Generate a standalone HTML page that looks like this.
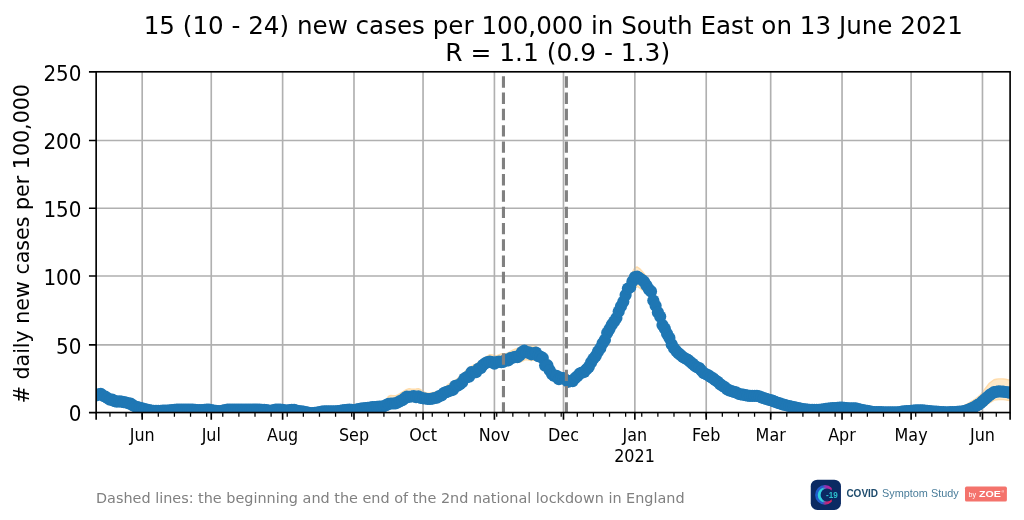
<!DOCTYPE html>
<html lang="en"><head><meta charset="utf-8"><title>COVID Symptom Study - South East</title>
<style>html,body{margin:0;padding:0;background:#fff}body{width:1024px;height:520px;overflow:hidden}</style></head>
<body>
<svg width="1024" height="520" viewBox="0 0 1024 520" style="display:block">
<defs><clipPath id="ax"><rect x="96.15" y="71.80" width="913.95" height="340.75"/></clipPath></defs>
<rect width="1024" height="520" fill="#ffffff"/>
<polygon clip-path="url(#ax)" points="96.2,391.2 98.5,390.4 100.8,389.8 103.1,391.4 105.4,392.9 107.7,394.2 110.0,395.5 112.3,396.3 114.6,396.7 116.9,397.1 119.2,397.3 121.5,397.5 123.8,397.7 126.1,398.4 128.4,399.2 130.7,400.0 133.0,401.1 135.3,402.2 137.6,403.0 139.9,403.6 142.2,404.2 144.5,404.8 146.8,405.5 149.1,406.0 151.4,406.3 153.7,406.6 156.0,406.7 158.3,406.7 160.6,406.6 162.9,406.5 165.2,406.5 167.5,406.4 169.8,406.1 172.1,405.8 174.4,405.6 176.7,405.5 179.0,405.5 181.3,405.5 183.6,405.5 185.9,405.5 188.2,405.5 190.5,405.5 192.8,405.5 195.1,405.7 197.4,405.8 199.7,406.0 202.0,405.8 204.4,405.6 206.7,405.4 209.0,405.5 211.3,405.9 213.6,406.3 215.9,406.6 218.2,406.8 220.5,407.0 222.8,406.5 225.1,405.9 227.4,405.5 229.7,405.5 232.0,405.5 234.3,405.4 236.6,405.4 238.9,405.4 241.2,405.4 243.5,405.4 245.8,405.4 248.1,405.4 250.4,405.4 252.7,405.4 255.0,405.4 257.3,405.4 259.6,405.5 261.9,405.6 264.2,405.7 266.5,406.0 268.8,406.4 271.1,406.6 273.4,406.0 275.7,405.5 278.0,405.5 280.3,405.5 282.6,405.7 284.9,406.1 287.2,406.3 289.5,406.0 291.8,405.6 294.1,405.7 296.4,406.3 298.7,406.9 301.0,407.2 303.3,407.5 305.6,407.9 307.9,408.3 310.2,408.8 312.6,409.0 314.9,408.6 317.2,408.3 319.5,407.9 321.8,407.5 324.1,407.2 326.4,407.2 328.7,407.2 331.0,407.2 333.3,407.2 335.6,407.2 337.9,406.9 340.2,406.6 342.5,406.2 344.8,405.9 347.1,405.6 349.4,405.5 351.7,405.7 354.0,405.9 356.3,405.4 358.6,404.9 360.9,404.4 363.2,404.1 365.5,403.9 367.8,403.6 370.1,403.3 372.4,403.0 374.7,402.8 377.0,402.6 379.3,402.5 381.6,402.3 383.9,401.9 386.2,399.7 388.5,396.5 390.8,395.5 393.1,395.6 395.4,395.8 397.7,394.9 400.0,393.6 402.3,392.0 404.6,390.6 406.9,389.4 409.2,388.7 411.5,389.1 413.8,389.3 416.1,389.0 418.4,388.6 420.8,389.7 423.1,391.3 425.4,392.6 427.7,393.3 430.0,393.0 432.3,392.6 434.6,392.1 436.9,391.6 439.2,390.8 441.5,389.4 443.8,387.9 446.1,386.2 448.4,384.4 450.7,382.9 453.0,381.5 455.3,380.1 457.6,378.5 459.9,376.2 462.2,374.1 464.5,372.2 466.8,369.8 469.1,367.5 471.4,366.4 473.7,365.2 476.0,363.9 478.3,362.2 480.6,360.6 482.9,359.1 485.2,357.5 487.5,356.1 489.8,354.7 492.1,355.0 494.4,355.4 496.7,355.7 499.0,354.8 501.3,353.9 503.6,353.8 505.9,353.7 508.2,352.9 510.5,351.4 512.8,350.2 515.1,349.2 517.4,348.4 519.7,347.7 522.0,346.7 524.3,345.6 526.7,344.9 529.0,345.4 531.3,345.8 533.6,345.4 535.9,346.2 538.2,349.0 540.5,352.1 542.8,356.1 545.1,359.4 547.4,362.4 549.7,365.4 552.0,368.4 554.3,370.9 556.6,373.1 558.9,374.1 561.2,374.8 563.5,375.4 565.8,376.1 568.1,376.7 570.4,376.2 572.7,375.7 575.0,373.9 577.3,372.1 579.6,370.5 581.9,368.8 584.2,366.9 586.5,365.0 588.8,361.9 591.1,358.4 593.4,355.1 595.7,351.7 598.0,347.4 600.3,343.1 602.6,338.4 604.9,333.3 607.2,328.2 609.5,324.8 611.8,321.5 614.1,317.3 616.4,312.8 618.7,307.7 621.0,302.1 623.3,295.6 625.6,288.5 627.9,281.3 630.2,277.3 632.5,272.1 634.9,267.7 637.2,267.0 639.5,268.6 641.8,270.9 644.1,273.6 646.4,276.7 648.7,281.9 651.0,287.4 653.3,294.3 655.6,300.9 657.9,307.0 660.2,313.2 662.5,319.4 664.8,324.5 667.1,329.6 669.4,335.0 671.7,340.5 674.0,344.0 676.3,346.7 678.6,348.8 680.9,350.6 683.2,352.3 685.5,354.1 687.8,355.7 690.1,357.3 692.4,358.9 694.7,360.6 697.0,362.4 699.3,364.2 701.6,366.2 703.9,368.1 706.2,369.6 708.5,371.0 710.8,372.4 713.1,374.0 715.4,375.6 717.7,377.3 720.0,379.1 722.3,380.9 724.6,382.7 726.9,384.5 729.2,385.6 731.5,386.6 733.8,387.6 736.1,388.6 738.4,389.3 740.7,390.0 743.1,390.7 745.4,391.3 747.7,391.3 750.0,391.3 752.3,391.3 754.6,391.3 756.9,391.5 759.2,392.2 761.5,392.8 763.8,393.5 766.1,394.2 768.4,395.0 770.7,395.7 773.0,396.5 775.3,397.3 777.6,398.0 779.9,398.8 782.2,399.6 784.5,400.3 786.8,400.9 789.1,401.5 791.4,402.0 793.7,402.6 796.0,403.1 798.3,403.6 800.6,404.0 802.9,404.5 805.2,404.8 807.5,405.1 809.8,405.4 812.1,405.4 814.4,405.4 816.7,405.4 819.0,405.4 821.3,405.2 823.6,404.8 825.9,404.4 828.2,404.2 830.5,403.9 832.8,403.7 835.1,403.5 837.4,403.4 839.7,403.2 842.0,403.1 844.3,403.4 846.6,403.7 849.0,403.9 851.3,403.9 853.6,403.9 855.9,403.9 858.2,404.5 860.5,405.0 862.8,405.5 865.1,406.0 867.4,406.4 869.7,406.9 872.0,407.3 874.3,407.5 876.6,407.6 878.9,407.7 881.2,407.7 883.5,407.8 885.8,407.9 888.1,407.9 890.4,407.9 892.7,407.9 895.0,407.9 897.3,407.9 899.6,407.6 901.9,407.2 904.2,406.9 906.5,406.7 908.8,406.5 911.1,406.3 913.4,406.1 915.7,405.8 918.0,405.8 920.3,405.8 922.6,405.9 924.9,406.1 927.2,406.4 929.5,406.7 931.8,406.9 934.1,407.0 936.4,407.1 938.7,407.3 941.0,407.5 943.3,407.7 945.6,407.8 947.9,407.8 950.2,407.7 952.5,407.7 954.8,407.6 957.2,407.4 959.5,407.2 961.8,406.5 964.1,405.6 966.4,404.4 968.7,403.1 971.0,401.7 973.3,400.3 975.6,398.8 977.9,397.0 980.2,395.1 982.5,392.3 984.8,389.2 987.1,386.2 989.4,383.2 991.7,381.5 994.0,379.8 996.3,379.3 998.6,378.9 1000.9,378.9 1003.2,379.0 1005.5,379.3 1007.8,379.7 1010.1,380.0 1010.1,400.5 1007.8,400.2 1005.5,399.9 1003.2,399.6 1000.9,399.6 998.6,399.5 996.3,399.8 994.0,400.1 991.7,401.6 989.4,402.9 987.1,404.6 984.8,406.3 982.5,407.7 980.2,409.1 977.9,409.8 975.6,410.5 973.3,411.5 971.0,412.6 968.7,413.7 966.4,414.4 964.1,415.1 961.8,415.5 959.5,415.7 957.2,415.9 954.8,416.1 952.5,416.2 950.2,416.2 947.9,416.3 945.6,416.3 943.3,416.2 941.0,416.0 938.7,415.8 936.4,415.6 934.1,415.5 931.8,415.4 929.5,415.2 927.2,414.9 924.9,414.6 922.6,414.4 920.3,414.3 918.0,414.3 915.7,414.3 913.4,414.6 911.1,414.8 908.8,415.0 906.5,415.2 904.2,415.4 901.9,415.7 899.6,416.1 897.3,416.4 895.0,416.4 892.7,416.4 890.4,416.4 888.1,416.4 885.8,416.4 883.5,416.3 881.2,416.2 878.9,416.2 876.6,416.1 874.3,416.0 872.0,415.8 869.7,415.4 867.4,414.9 865.1,414.5 862.8,414.0 860.5,413.5 858.2,413.0 855.9,412.4 853.6,412.4 851.3,412.4 849.0,412.4 846.6,412.2 844.3,411.9 842.0,411.6 839.7,411.7 837.4,411.9 835.1,412.0 832.8,412.2 830.5,412.4 828.2,412.7 825.9,412.9 823.6,413.3 821.3,413.7 819.0,413.9 816.7,413.9 814.4,413.9 812.1,413.9 809.8,413.9 807.5,413.6 805.2,413.3 802.9,413.0 800.6,412.5 798.3,412.1 796.0,411.6 793.7,411.1 791.4,410.5 789.1,410.0 786.8,409.4 784.5,408.8 782.2,408.1 779.9,407.3 777.6,406.5 775.3,405.8 773.0,405.0 770.7,404.2 768.4,403.5 766.1,402.7 763.8,402.0 761.5,401.3 759.2,400.7 756.9,400.0 754.6,399.8 752.3,399.8 750.0,399.8 747.7,399.8 745.4,399.8 743.1,399.2 740.7,398.5 738.4,397.8 736.1,397.1 733.8,396.1 731.5,395.1 729.2,394.1 726.9,393.0 724.6,391.2 722.3,389.4 720.0,387.6 717.7,385.8 715.4,384.1 713.1,382.5 710.8,380.9 708.5,379.5 706.2,378.1 703.9,376.6 701.6,374.7 699.3,372.7 697.0,370.9 694.7,369.1 692.4,367.4 690.1,365.8 687.8,364.2 685.5,362.6 683.2,360.8 680.9,359.1 678.6,357.3 676.3,355.2 674.0,352.5 671.7,349.0 669.4,343.5 667.1,338.1 664.8,333.0 662.5,327.9 660.2,321.7 657.9,315.5 655.6,309.4 653.3,303.5 651.0,297.7 648.7,294.2 646.4,291.8 644.1,290.7 641.8,289.8 639.5,287.8 637.2,286.3 634.9,286.9 632.5,289.8 630.2,292.5 627.9,293.1 625.6,299.0 623.3,304.9 621.0,310.6 618.7,316.2 616.4,321.3 614.1,325.8 611.8,330.0 609.5,333.3 607.2,336.7 604.9,341.8 602.6,346.9 600.3,351.6 598.0,355.9 595.7,360.2 593.4,363.6 591.1,366.9 588.8,370.4 586.5,373.5 584.2,375.4 581.9,377.3 579.6,379.0 577.3,380.6 575.0,382.4 572.7,384.2 570.4,384.7 568.1,385.2 565.8,384.6 563.5,383.9 561.2,383.3 558.9,382.6 556.6,381.6 554.3,379.4 552.0,376.9 549.7,373.9 547.4,370.9 545.1,367.9 542.8,364.6 540.5,361.9 538.2,360.9 535.9,360.2 533.6,360.1 531.3,360.5 529.0,360.0 526.7,359.5 524.3,360.2 522.0,361.4 519.7,362.2 517.4,361.9 515.1,361.8 512.8,361.7 510.5,362.6 508.2,364.0 505.9,364.8 503.6,364.9 501.3,365.1 499.0,365.9 496.7,366.8 494.4,366.5 492.1,366.1 489.8,365.8 487.5,367.2 485.2,368.6 482.9,370.1 480.6,371.7 478.3,373.3 476.0,374.9 473.7,376.2 471.4,377.4 469.1,378.6 466.8,380.8 464.5,383.1 462.2,385.0 459.9,387.0 457.6,389.3 455.3,390.7 453.0,392.1 450.7,393.5 448.4,394.9 446.1,396.6 443.8,398.3 441.5,399.8 439.2,401.1 436.9,401.9 434.6,402.5 432.3,403.0 430.0,403.5 427.7,403.8 425.4,403.2 423.1,402.6 420.8,401.7 418.4,400.9 416.1,401.3 413.8,401.6 411.5,401.4 409.2,401.1 406.9,401.8 404.6,403.0 402.3,404.2 400.0,405.4 397.7,406.7 395.4,407.5 393.1,407.3 390.8,407.1 388.5,407.7 386.2,408.9 383.9,410.1 381.6,410.5 379.3,410.7 377.0,410.8 374.7,411.0 372.4,411.2 370.1,411.5 367.8,411.8 365.5,412.1 363.2,412.3 360.9,412.6 358.6,413.1 356.3,413.6 354.0,414.1 351.7,413.9 349.4,413.7 347.1,413.8 344.8,414.1 342.5,414.4 340.2,414.8 337.9,415.1 335.6,415.4 333.3,415.4 331.0,415.4 328.7,415.4 326.4,415.4 324.1,415.4 321.8,415.7 319.5,416.1 317.2,416.5 314.9,416.8 312.6,417.2 310.2,417.0 307.9,416.5 305.6,416.1 303.3,415.7 301.0,415.4 298.7,415.1 296.4,414.5 294.1,413.9 291.8,413.8 289.5,414.2 287.2,414.5 284.9,414.3 282.6,413.9 280.3,413.7 278.0,413.7 275.7,413.7 273.4,414.2 271.1,414.8 268.8,414.6 266.5,414.2 264.2,413.9 261.9,413.8 259.6,413.7 257.3,413.6 255.0,413.6 252.7,413.6 250.4,413.6 248.1,413.6 245.8,413.6 243.5,413.6 241.2,413.6 238.9,413.6 236.6,413.6 234.3,413.6 232.0,413.7 229.7,413.7 227.4,413.7 225.1,414.1 222.8,414.7 220.5,415.2 218.2,415.0 215.9,414.8 213.6,414.5 211.3,414.1 209.0,413.7 206.7,413.6 204.4,413.8 202.0,414.0 199.7,414.2 197.4,414.0 195.1,413.9 192.8,413.7 190.5,413.7 188.2,413.7 185.9,413.7 183.6,413.7 181.3,413.7 179.0,413.7 176.7,413.7 174.4,413.8 172.1,414.0 169.8,414.3 167.5,414.6 165.2,414.7 162.9,414.7 160.6,414.8 158.3,414.9 156.0,414.9 153.7,414.8 151.4,414.5 149.1,414.2 146.8,413.7 144.5,413.0 142.2,412.4 139.9,411.8 137.6,411.2 135.3,410.4 133.0,409.3 130.7,408.2 128.4,407.4 126.1,406.6 123.8,405.9 121.5,405.7 119.2,405.5 116.9,405.3 114.6,404.9 112.3,404.5 110.0,403.7 107.7,402.4 105.4,401.1 103.1,399.6 100.8,398.0 98.5,398.6 96.2,399.4" fill="#ffe9c8" stroke="#ffdcaa" stroke-width="1.4" stroke-linejoin="round"/>
<path d="M142.19 71.80V412.55M211.26 71.80V412.55M282.62 71.80V412.55M353.99 71.80V412.55M423.05 71.80V412.55M494.42 71.80V412.55M563.48 71.80V412.55M634.85 71.80V412.55M706.22 71.80V412.55M770.68 71.80V412.55M842.04 71.80V412.55M911.11 71.80V412.55M982.47 71.80V412.55M96.15 344.90H1010.10M96.15 276.00H1010.10M96.15 208.20H1010.10M96.15 140.50H1010.10" stroke="#b0b0b0" stroke-width="1.65" fill="none"/>
<g clip-path="url(#ax)" fill="#1f77b4">
<polyline points="96.2,395.4 98.5,394.3 100.8,393.9 103.1,395.8 105.4,396.7 107.7,398.3 110.0,399.7 112.3,399.6 114.6,401.2 116.9,401.7 119.2,401.3 121.5,401.6 123.8,402.1 126.1,402.5 128.4,403.3 130.7,403.7 133.0,405.4 135.3,406.5 137.6,407.2 139.9,407.8 142.2,408.4 144.5,409.0 146.8,409.7 149.1,410.2 151.4,410.5 153.7,410.8 156.0,410.9 158.3,410.9 160.6,410.8 162.9,410.7 165.2,410.7 167.5,410.6 169.8,410.3 172.1,410.0 174.4,409.8 176.7,409.7 179.0,409.7 181.3,409.7 183.6,409.7 185.9,409.7 188.2,409.7 190.5,409.7 192.8,409.7 195.1,409.9 197.4,410.0 199.7,410.2 202.0,410.0 204.4,409.8 206.7,409.6 209.0,409.7 211.3,410.1 213.6,410.5 215.9,410.8 218.2,411.0 220.5,411.2 222.8,410.7 225.1,410.1 227.4,409.7 229.7,409.7 232.0,409.7 234.3,409.6 236.6,409.6 238.9,409.6 241.2,409.6 243.5,409.6 245.8,409.6 248.1,409.6 250.4,409.6 252.7,409.6 255.0,409.6 257.3,409.6 259.6,409.7 261.9,409.8 264.2,409.9 266.5,410.2 268.8,410.6 271.1,410.8 273.4,410.2 275.7,409.7 278.0,409.7 280.3,409.7 282.6,409.9 284.9,410.3 287.2,410.5 289.5,410.2 291.8,409.8 294.1,409.9 296.4,410.5 298.7,411.1 301.0,411.4 303.3,411.7 305.6,412.1 307.9,412.5 310.2,413.0 312.6,413.2 314.9,412.8 317.2,412.5 319.5,412.1 321.8,411.7 324.1,411.4 326.4,411.4 328.7,411.4 331.0,411.4 333.3,411.4 335.6,411.4 337.9,411.1 340.2,410.8 342.5,410.4 344.8,410.1 347.1,409.8 349.4,409.7 351.7,409.9 354.0,410.1 356.3,409.6 358.6,409.1 360.9,408.6 363.2,408.3 365.5,408.1 367.8,407.8 370.1,407.5 372.4,407.2 374.7,407.0 377.0,406.9 379.3,406.7 381.6,406.5 383.9,406.3 386.2,405.1 388.5,403.9 390.8,403.5 393.1,403.5 395.4,403.4 397.7,402.5 400.0,401.1 402.3,400.2 404.6,398.4 406.9,396.5 409.2,396.8 411.5,396.5 413.8,396.2 416.1,397.1 418.4,396.4 420.8,397.9 423.1,398.3 425.4,398.5 427.7,399.0 430.0,399.0 432.3,398.7 434.6,398.0 436.9,397.6 439.2,396.1 441.5,395.5 443.8,393.0 446.1,392.1 448.4,391.3 450.7,390.5 453.0,389.8 455.3,385.8 457.6,385.7 459.9,384.3 462.2,382.3 464.5,378.5 466.8,377.1 469.1,376.7 471.4,372.2 473.7,372.5 476.0,372.2 478.3,368.8 480.6,368.2 482.9,365.0 485.2,363.4 487.5,362.0 489.8,361.7 492.1,362.0 494.4,363.6 496.7,362.0 499.0,361.6 501.3,362.1 503.6,361.8 505.9,359.5 508.2,360.5 510.5,358.2 512.8,357.7 515.1,356.9 517.4,357.1 519.7,355.4 522.0,352.0 524.3,350.7 526.7,352.5 529.0,352.4 531.3,354.3 533.6,353.3 535.9,352.5 538.2,356.1 540.5,356.5 542.8,358.1 545.1,365.6 547.4,365.2 549.7,370.2 552.0,374.1 554.3,375.9 556.6,375.9 558.9,379.2 561.2,377.9 563.5,378.2 565.8,379.8 568.1,381.8 570.4,381.2 572.7,381.1 575.0,378.2 577.3,376.3 579.6,373.7 581.9,372.6 584.2,371.9 586.5,369.3 588.8,366.9 591.1,362.4 593.4,358.8 595.7,356.0 598.0,351.6 600.3,348.2 602.6,343.3 604.9,339.9 607.2,332.9 609.5,329.1 611.8,324.7 614.1,321.5 616.4,318.0 618.7,311.5 621.0,306.3 623.3,301.7 625.6,295.1 627.9,288.6 630.2,287.3 632.5,281.3 634.9,277.1 637.2,276.7 639.5,278.2 641.8,279.8 644.1,281.7 646.4,285.3 648.7,289.1 651.0,291.4 653.3,300.5 655.6,305.7 657.9,312.4 660.2,316.6 662.5,325.1 664.8,328.6 667.1,333.9 669.4,337.9 671.7,344.4 674.0,348.3 676.3,351.1 678.6,353.4 680.9,355.2 683.2,357.3 685.5,358.5 687.8,359.8 690.1,361.7 692.4,363.6 694.7,365.7 697.0,367.3 699.3,368.1 701.6,370.7 703.9,373.2 706.2,374.3 708.5,375.4 710.8,377.0 713.1,378.4 715.4,380.3 717.7,381.8 720.0,384.1 722.3,385.7 724.6,387.0 726.9,389.1 729.2,390.4 731.5,391.0 733.8,391.9 736.1,392.4 738.4,393.8 740.7,394.3 743.1,394.6 745.4,395.2 747.7,395.6 750.0,395.9 752.3,395.8 754.6,395.9 756.9,395.8 759.2,396.3 761.5,397.4 763.8,398.1 766.1,398.8 768.4,399.7 770.7,400.1 773.0,400.9 775.3,401.9 777.6,402.8 779.9,403.4 782.2,404.3 784.5,404.8 786.8,405.5 789.1,406.0 791.4,406.5 793.7,407.1 796.0,407.6 798.3,408.1 800.6,408.5 802.9,409.0 805.2,409.3 807.5,409.6 809.8,409.9 812.1,409.9 814.4,409.9 816.7,409.9 819.0,409.9 821.3,409.7 823.6,409.3 825.9,408.9 828.2,408.7 830.5,408.4 832.8,408.2 835.1,408.0 837.4,407.9 839.7,407.7 842.0,407.6 844.3,407.9 846.6,408.2 849.0,408.4 851.3,408.4 853.6,408.4 855.9,408.4 858.2,409.0 860.5,409.5 862.8,410.0 865.1,410.5 867.4,410.9 869.7,411.4 872.0,411.8 874.3,412.0 876.6,412.1 878.9,412.2 881.2,412.2 883.5,412.3 885.8,412.4 888.1,412.4 890.4,412.4 892.7,412.4 895.0,412.4 897.3,412.4 899.6,412.1 901.9,411.7 904.2,411.4 906.5,411.2 908.8,411.0 911.1,410.8 913.4,410.6 915.7,410.3 918.0,410.3 920.3,410.3 922.6,410.4 924.9,410.6 927.2,410.9 929.5,411.2 931.8,411.4 934.1,411.5 936.4,411.6 938.7,411.8 941.0,412.0 943.3,412.2 945.6,412.3 947.9,412.3 950.2,412.2 952.5,412.2 954.8,412.1 957.2,411.9 959.5,411.7 961.8,411.5 964.1,411.1 966.4,410.4 968.7,409.7 971.0,408.6 973.3,407.5 975.6,406.3 977.9,404.9 980.2,403.5 982.5,401.4 984.8,399.3 987.1,397.3 989.4,395.2 991.7,393.7 994.0,392.2 996.3,391.8 998.6,391.4 1000.9,391.5 1003.2,391.6 1005.5,392.0 1007.8,392.3 1010.1,392.7" fill="none" stroke="#1f77b4" stroke-width="4" stroke-linejoin="round"/>
<circle cx="96.2" cy="395.4" r="6.1"/>
<circle cx="98.5" cy="394.3" r="6.1"/>
<circle cx="100.8" cy="393.9" r="6.1"/>
<circle cx="103.1" cy="395.8" r="6.1"/>
<circle cx="105.4" cy="396.7" r="6.1"/>
<circle cx="107.7" cy="398.3" r="6.1"/>
<circle cx="110.0" cy="399.7" r="6.1"/>
<circle cx="112.3" cy="399.6" r="6.1"/>
<circle cx="114.6" cy="401.2" r="6.1"/>
<circle cx="116.9" cy="401.7" r="6.1"/>
<circle cx="119.2" cy="401.3" r="6.1"/>
<circle cx="121.5" cy="401.6" r="6.1"/>
<circle cx="123.8" cy="402.1" r="6.1"/>
<circle cx="126.1" cy="402.5" r="6.1"/>
<circle cx="128.4" cy="403.3" r="6.1"/>
<circle cx="130.7" cy="403.7" r="6.1"/>
<circle cx="133.0" cy="405.4" r="6.1"/>
<circle cx="135.3" cy="406.5" r="6.1"/>
<circle cx="137.6" cy="407.2" r="6.1"/>
<circle cx="139.9" cy="407.8" r="6.1"/>
<circle cx="142.2" cy="408.4" r="6.1"/>
<circle cx="144.5" cy="409.0" r="6.1"/>
<circle cx="146.8" cy="409.7" r="6.1"/>
<circle cx="149.1" cy="410.2" r="6.1"/>
<circle cx="151.4" cy="410.5" r="6.1"/>
<circle cx="153.7" cy="410.8" r="6.1"/>
<circle cx="156.0" cy="410.9" r="6.1"/>
<circle cx="158.3" cy="410.9" r="6.1"/>
<circle cx="160.6" cy="410.8" r="6.1"/>
<circle cx="162.9" cy="410.7" r="6.1"/>
<circle cx="165.2" cy="410.7" r="6.1"/>
<circle cx="167.5" cy="410.6" r="6.1"/>
<circle cx="169.8" cy="410.3" r="6.1"/>
<circle cx="172.1" cy="410.0" r="6.1"/>
<circle cx="174.4" cy="409.8" r="6.1"/>
<circle cx="176.7" cy="409.7" r="6.1"/>
<circle cx="179.0" cy="409.7" r="6.1"/>
<circle cx="181.3" cy="409.7" r="6.1"/>
<circle cx="183.6" cy="409.7" r="6.1"/>
<circle cx="185.9" cy="409.7" r="6.1"/>
<circle cx="188.2" cy="409.7" r="6.1"/>
<circle cx="190.5" cy="409.7" r="6.1"/>
<circle cx="192.8" cy="409.7" r="6.1"/>
<circle cx="195.1" cy="409.9" r="6.1"/>
<circle cx="197.4" cy="410.0" r="6.1"/>
<circle cx="199.7" cy="410.2" r="6.1"/>
<circle cx="202.0" cy="410.0" r="6.1"/>
<circle cx="204.4" cy="409.8" r="6.1"/>
<circle cx="206.7" cy="409.6" r="6.1"/>
<circle cx="209.0" cy="409.7" r="6.1"/>
<circle cx="211.3" cy="410.1" r="6.1"/>
<circle cx="213.6" cy="410.5" r="6.1"/>
<circle cx="215.9" cy="410.8" r="6.1"/>
<circle cx="218.2" cy="411.0" r="6.1"/>
<circle cx="220.5" cy="411.2" r="6.1"/>
<circle cx="222.8" cy="410.7" r="6.1"/>
<circle cx="225.1" cy="410.1" r="6.1"/>
<circle cx="227.4" cy="409.7" r="6.1"/>
<circle cx="229.7" cy="409.7" r="6.1"/>
<circle cx="232.0" cy="409.7" r="6.1"/>
<circle cx="234.3" cy="409.6" r="6.1"/>
<circle cx="236.6" cy="409.6" r="6.1"/>
<circle cx="238.9" cy="409.6" r="6.1"/>
<circle cx="241.2" cy="409.6" r="6.1"/>
<circle cx="243.5" cy="409.6" r="6.1"/>
<circle cx="245.8" cy="409.6" r="6.1"/>
<circle cx="248.1" cy="409.6" r="6.1"/>
<circle cx="250.4" cy="409.6" r="6.1"/>
<circle cx="252.7" cy="409.6" r="6.1"/>
<circle cx="255.0" cy="409.6" r="6.1"/>
<circle cx="257.3" cy="409.6" r="6.1"/>
<circle cx="259.6" cy="409.7" r="6.1"/>
<circle cx="261.9" cy="409.8" r="6.1"/>
<circle cx="264.2" cy="409.9" r="6.1"/>
<circle cx="266.5" cy="410.2" r="6.1"/>
<circle cx="268.8" cy="410.6" r="6.1"/>
<circle cx="271.1" cy="410.8" r="6.1"/>
<circle cx="273.4" cy="410.2" r="6.1"/>
<circle cx="275.7" cy="409.7" r="6.1"/>
<circle cx="278.0" cy="409.7" r="6.1"/>
<circle cx="280.3" cy="409.7" r="6.1"/>
<circle cx="282.6" cy="409.9" r="6.1"/>
<circle cx="284.9" cy="410.3" r="6.1"/>
<circle cx="287.2" cy="410.5" r="6.1"/>
<circle cx="289.5" cy="410.2" r="6.1"/>
<circle cx="291.8" cy="409.8" r="6.1"/>
<circle cx="294.1" cy="409.9" r="6.1"/>
<circle cx="296.4" cy="410.5" r="6.1"/>
<circle cx="298.7" cy="411.1" r="6.1"/>
<circle cx="301.0" cy="411.4" r="6.1"/>
<circle cx="303.3" cy="411.7" r="6.1"/>
<circle cx="305.6" cy="412.1" r="6.1"/>
<circle cx="307.9" cy="412.5" r="6.1"/>
<circle cx="310.2" cy="413.0" r="6.1"/>
<circle cx="312.6" cy="413.2" r="6.1"/>
<circle cx="314.9" cy="412.8" r="6.1"/>
<circle cx="317.2" cy="412.5" r="6.1"/>
<circle cx="319.5" cy="412.1" r="6.1"/>
<circle cx="321.8" cy="411.7" r="6.1"/>
<circle cx="324.1" cy="411.4" r="6.1"/>
<circle cx="326.4" cy="411.4" r="6.1"/>
<circle cx="328.7" cy="411.4" r="6.1"/>
<circle cx="331.0" cy="411.4" r="6.1"/>
<circle cx="333.3" cy="411.4" r="6.1"/>
<circle cx="335.6" cy="411.4" r="6.1"/>
<circle cx="337.9" cy="411.1" r="6.1"/>
<circle cx="340.2" cy="410.8" r="6.1"/>
<circle cx="342.5" cy="410.4" r="6.1"/>
<circle cx="344.8" cy="410.1" r="6.1"/>
<circle cx="347.1" cy="409.8" r="6.1"/>
<circle cx="349.4" cy="409.7" r="6.1"/>
<circle cx="351.7" cy="409.9" r="6.1"/>
<circle cx="354.0" cy="410.1" r="6.1"/>
<circle cx="356.3" cy="409.6" r="6.1"/>
<circle cx="358.6" cy="409.1" r="6.1"/>
<circle cx="360.9" cy="408.6" r="6.1"/>
<circle cx="363.2" cy="408.3" r="6.1"/>
<circle cx="365.5" cy="408.1" r="6.1"/>
<circle cx="367.8" cy="407.8" r="6.1"/>
<circle cx="370.1" cy="407.5" r="6.1"/>
<circle cx="372.4" cy="407.2" r="6.1"/>
<circle cx="374.7" cy="407.0" r="6.1"/>
<circle cx="377.0" cy="406.9" r="6.1"/>
<circle cx="379.3" cy="406.7" r="6.1"/>
<circle cx="381.6" cy="406.5" r="6.1"/>
<circle cx="383.9" cy="406.3" r="6.1"/>
<circle cx="386.2" cy="405.1" r="6.1"/>
<circle cx="388.5" cy="403.9" r="6.1"/>
<circle cx="390.8" cy="403.5" r="6.1"/>
<circle cx="393.1" cy="403.5" r="6.1"/>
<circle cx="395.4" cy="403.4" r="6.1"/>
<circle cx="397.7" cy="402.5" r="6.1"/>
<circle cx="400.0" cy="401.1" r="6.1"/>
<circle cx="402.3" cy="400.2" r="6.1"/>
<circle cx="404.6" cy="398.4" r="6.1"/>
<circle cx="406.9" cy="396.5" r="6.1"/>
<circle cx="409.2" cy="396.8" r="6.1"/>
<circle cx="411.5" cy="396.5" r="6.1"/>
<circle cx="413.8" cy="396.2" r="6.1"/>
<circle cx="416.1" cy="397.1" r="6.1"/>
<circle cx="418.4" cy="396.4" r="6.1"/>
<circle cx="420.8" cy="397.9" r="6.1"/>
<circle cx="423.1" cy="398.3" r="6.1"/>
<circle cx="425.4" cy="398.5" r="6.1"/>
<circle cx="427.7" cy="399.0" r="6.1"/>
<circle cx="430.0" cy="399.0" r="6.1"/>
<circle cx="432.3" cy="398.7" r="6.1"/>
<circle cx="434.6" cy="398.0" r="6.1"/>
<circle cx="436.9" cy="397.6" r="6.1"/>
<circle cx="439.2" cy="396.1" r="6.1"/>
<circle cx="441.5" cy="395.5" r="6.1"/>
<circle cx="443.8" cy="393.0" r="6.1"/>
<circle cx="446.1" cy="392.1" r="6.1"/>
<circle cx="448.4" cy="391.3" r="6.1"/>
<circle cx="450.7" cy="390.5" r="6.1"/>
<circle cx="453.0" cy="389.8" r="6.1"/>
<circle cx="455.3" cy="385.8" r="6.1"/>
<circle cx="457.6" cy="385.7" r="6.1"/>
<circle cx="459.9" cy="384.3" r="6.1"/>
<circle cx="462.2" cy="382.3" r="6.1"/>
<circle cx="464.5" cy="378.5" r="6.1"/>
<circle cx="466.8" cy="377.1" r="6.1"/>
<circle cx="469.1" cy="376.7" r="6.1"/>
<circle cx="471.4" cy="372.2" r="6.1"/>
<circle cx="473.7" cy="372.5" r="6.1"/>
<circle cx="476.0" cy="372.2" r="6.1"/>
<circle cx="478.3" cy="368.8" r="6.1"/>
<circle cx="480.6" cy="368.2" r="6.1"/>
<circle cx="482.9" cy="365.0" r="6.1"/>
<circle cx="485.2" cy="363.4" r="6.1"/>
<circle cx="487.5" cy="362.0" r="6.1"/>
<circle cx="489.8" cy="361.7" r="6.1"/>
<circle cx="492.1" cy="362.0" r="6.1"/>
<circle cx="494.4" cy="363.6" r="6.1"/>
<circle cx="496.7" cy="362.0" r="6.1"/>
<circle cx="499.0" cy="361.6" r="6.1"/>
<circle cx="501.3" cy="362.1" r="6.1"/>
<circle cx="503.6" cy="361.8" r="6.1"/>
<circle cx="505.9" cy="359.5" r="6.1"/>
<circle cx="508.2" cy="360.5" r="6.1"/>
<circle cx="510.5" cy="358.2" r="6.1"/>
<circle cx="512.8" cy="357.7" r="6.1"/>
<circle cx="515.1" cy="356.9" r="6.1"/>
<circle cx="517.4" cy="357.1" r="6.1"/>
<circle cx="519.7" cy="355.4" r="6.1"/>
<circle cx="522.0" cy="352.0" r="6.1"/>
<circle cx="524.3" cy="350.7" r="6.1"/>
<circle cx="526.7" cy="352.5" r="6.1"/>
<circle cx="529.0" cy="352.4" r="6.1"/>
<circle cx="531.3" cy="354.3" r="6.1"/>
<circle cx="533.6" cy="353.3" r="6.1"/>
<circle cx="535.9" cy="352.5" r="6.1"/>
<circle cx="538.2" cy="356.1" r="6.1"/>
<circle cx="540.5" cy="356.5" r="6.1"/>
<circle cx="542.8" cy="358.1" r="6.1"/>
<circle cx="545.1" cy="365.6" r="6.1"/>
<circle cx="547.4" cy="365.2" r="6.1"/>
<circle cx="549.7" cy="370.2" r="6.1"/>
<circle cx="552.0" cy="374.1" r="6.1"/>
<circle cx="554.3" cy="375.9" r="6.1"/>
<circle cx="556.6" cy="375.9" r="6.1"/>
<circle cx="558.9" cy="379.2" r="6.1"/>
<circle cx="561.2" cy="377.9" r="6.1"/>
<circle cx="563.5" cy="378.2" r="6.1"/>
<circle cx="565.8" cy="379.8" r="6.1"/>
<circle cx="568.1" cy="381.8" r="6.1"/>
<circle cx="570.4" cy="381.2" r="6.1"/>
<circle cx="572.7" cy="381.1" r="6.1"/>
<circle cx="575.0" cy="378.2" r="6.1"/>
<circle cx="577.3" cy="376.3" r="6.1"/>
<circle cx="579.6" cy="373.7" r="6.1"/>
<circle cx="581.9" cy="372.6" r="6.1"/>
<circle cx="584.2" cy="371.9" r="6.1"/>
<circle cx="586.5" cy="369.3" r="6.1"/>
<circle cx="588.8" cy="366.9" r="6.1"/>
<circle cx="591.1" cy="362.4" r="6.1"/>
<circle cx="593.4" cy="358.8" r="6.1"/>
<circle cx="595.7" cy="356.0" r="6.1"/>
<circle cx="598.0" cy="351.6" r="6.1"/>
<circle cx="600.3" cy="348.2" r="6.1"/>
<circle cx="602.6" cy="343.3" r="6.1"/>
<circle cx="604.9" cy="339.9" r="6.1"/>
<circle cx="607.2" cy="332.9" r="6.1"/>
<circle cx="609.5" cy="329.1" r="6.1"/>
<circle cx="611.8" cy="324.7" r="6.1"/>
<circle cx="614.1" cy="321.5" r="6.1"/>
<circle cx="616.4" cy="318.0" r="6.1"/>
<circle cx="618.7" cy="311.5" r="6.1"/>
<circle cx="621.0" cy="306.3" r="6.1"/>
<circle cx="623.3" cy="301.7" r="6.1"/>
<circle cx="625.6" cy="295.1" r="6.1"/>
<circle cx="627.9" cy="288.6" r="6.1"/>
<circle cx="630.2" cy="287.3" r="6.1"/>
<circle cx="632.5" cy="281.3" r="6.1"/>
<circle cx="634.9" cy="277.1" r="6.1"/>
<circle cx="637.2" cy="276.7" r="6.1"/>
<circle cx="639.5" cy="278.2" r="6.1"/>
<circle cx="641.8" cy="279.8" r="6.1"/>
<circle cx="644.1" cy="281.7" r="6.1"/>
<circle cx="646.4" cy="285.3" r="6.1"/>
<circle cx="648.7" cy="289.1" r="6.1"/>
<circle cx="651.0" cy="291.4" r="6.1"/>
<circle cx="653.3" cy="300.5" r="6.1"/>
<circle cx="655.6" cy="305.7" r="6.1"/>
<circle cx="657.9" cy="312.4" r="6.1"/>
<circle cx="660.2" cy="316.6" r="6.1"/>
<circle cx="662.5" cy="325.1" r="6.1"/>
<circle cx="664.8" cy="328.6" r="6.1"/>
<circle cx="667.1" cy="333.9" r="6.1"/>
<circle cx="669.4" cy="337.9" r="6.1"/>
<circle cx="671.7" cy="344.4" r="6.1"/>
<circle cx="674.0" cy="348.3" r="6.1"/>
<circle cx="676.3" cy="351.1" r="6.1"/>
<circle cx="678.6" cy="353.4" r="6.1"/>
<circle cx="680.9" cy="355.2" r="6.1"/>
<circle cx="683.2" cy="357.3" r="6.1"/>
<circle cx="685.5" cy="358.5" r="6.1"/>
<circle cx="687.8" cy="359.8" r="6.1"/>
<circle cx="690.1" cy="361.7" r="6.1"/>
<circle cx="692.4" cy="363.6" r="6.1"/>
<circle cx="694.7" cy="365.7" r="6.1"/>
<circle cx="697.0" cy="367.3" r="6.1"/>
<circle cx="699.3" cy="368.1" r="6.1"/>
<circle cx="701.6" cy="370.7" r="6.1"/>
<circle cx="703.9" cy="373.2" r="6.1"/>
<circle cx="706.2" cy="374.3" r="6.1"/>
<circle cx="708.5" cy="375.4" r="6.1"/>
<circle cx="710.8" cy="377.0" r="6.1"/>
<circle cx="713.1" cy="378.4" r="6.1"/>
<circle cx="715.4" cy="380.3" r="6.1"/>
<circle cx="717.7" cy="381.8" r="6.1"/>
<circle cx="720.0" cy="384.1" r="6.1"/>
<circle cx="722.3" cy="385.7" r="6.1"/>
<circle cx="724.6" cy="387.0" r="6.1"/>
<circle cx="726.9" cy="389.1" r="6.1"/>
<circle cx="729.2" cy="390.4" r="6.1"/>
<circle cx="731.5" cy="391.0" r="6.1"/>
<circle cx="733.8" cy="391.9" r="6.1"/>
<circle cx="736.1" cy="392.4" r="6.1"/>
<circle cx="738.4" cy="393.8" r="6.1"/>
<circle cx="740.7" cy="394.3" r="6.1"/>
<circle cx="743.1" cy="394.6" r="6.1"/>
<circle cx="745.4" cy="395.2" r="6.1"/>
<circle cx="747.7" cy="395.6" r="6.1"/>
<circle cx="750.0" cy="395.9" r="6.1"/>
<circle cx="752.3" cy="395.8" r="6.1"/>
<circle cx="754.6" cy="395.9" r="6.1"/>
<circle cx="756.9" cy="395.8" r="6.1"/>
<circle cx="759.2" cy="396.3" r="6.1"/>
<circle cx="761.5" cy="397.4" r="6.1"/>
<circle cx="763.8" cy="398.1" r="6.1"/>
<circle cx="766.1" cy="398.8" r="6.1"/>
<circle cx="768.4" cy="399.7" r="6.1"/>
<circle cx="770.7" cy="400.1" r="6.1"/>
<circle cx="773.0" cy="400.9" r="6.1"/>
<circle cx="775.3" cy="401.9" r="6.1"/>
<circle cx="777.6" cy="402.8" r="6.1"/>
<circle cx="779.9" cy="403.4" r="6.1"/>
<circle cx="782.2" cy="404.3" r="6.1"/>
<circle cx="784.5" cy="404.8" r="6.1"/>
<circle cx="786.8" cy="405.5" r="6.1"/>
<circle cx="789.1" cy="406.0" r="6.1"/>
<circle cx="791.4" cy="406.5" r="6.1"/>
<circle cx="793.7" cy="407.1" r="6.1"/>
<circle cx="796.0" cy="407.6" r="6.1"/>
<circle cx="798.3" cy="408.1" r="6.1"/>
<circle cx="800.6" cy="408.5" r="6.1"/>
<circle cx="802.9" cy="409.0" r="6.1"/>
<circle cx="805.2" cy="409.3" r="6.1"/>
<circle cx="807.5" cy="409.6" r="6.1"/>
<circle cx="809.8" cy="409.9" r="6.1"/>
<circle cx="812.1" cy="409.9" r="6.1"/>
<circle cx="814.4" cy="409.9" r="6.1"/>
<circle cx="816.7" cy="409.9" r="6.1"/>
<circle cx="819.0" cy="409.9" r="6.1"/>
<circle cx="821.3" cy="409.7" r="6.1"/>
<circle cx="823.6" cy="409.3" r="6.1"/>
<circle cx="825.9" cy="408.9" r="6.1"/>
<circle cx="828.2" cy="408.7" r="6.1"/>
<circle cx="830.5" cy="408.4" r="6.1"/>
<circle cx="832.8" cy="408.2" r="6.1"/>
<circle cx="835.1" cy="408.0" r="6.1"/>
<circle cx="837.4" cy="407.9" r="6.1"/>
<circle cx="839.7" cy="407.7" r="6.1"/>
<circle cx="842.0" cy="407.6" r="6.1"/>
<circle cx="844.3" cy="407.9" r="6.1"/>
<circle cx="846.6" cy="408.2" r="6.1"/>
<circle cx="849.0" cy="408.4" r="6.1"/>
<circle cx="851.3" cy="408.4" r="6.1"/>
<circle cx="853.6" cy="408.4" r="6.1"/>
<circle cx="855.9" cy="408.4" r="6.1"/>
<circle cx="858.2" cy="409.0" r="6.1"/>
<circle cx="860.5" cy="409.5" r="6.1"/>
<circle cx="862.8" cy="410.0" r="6.1"/>
<circle cx="865.1" cy="410.5" r="6.1"/>
<circle cx="867.4" cy="410.9" r="6.1"/>
<circle cx="869.7" cy="411.4" r="6.1"/>
<circle cx="872.0" cy="411.8" r="6.1"/>
<circle cx="874.3" cy="412.0" r="6.1"/>
<circle cx="876.6" cy="412.1" r="6.1"/>
<circle cx="878.9" cy="412.2" r="6.1"/>
<circle cx="881.2" cy="412.2" r="6.1"/>
<circle cx="883.5" cy="412.3" r="6.1"/>
<circle cx="885.8" cy="412.4" r="6.1"/>
<circle cx="888.1" cy="412.4" r="6.1"/>
<circle cx="890.4" cy="412.4" r="6.1"/>
<circle cx="892.7" cy="412.4" r="6.1"/>
<circle cx="895.0" cy="412.4" r="6.1"/>
<circle cx="897.3" cy="412.4" r="6.1"/>
<circle cx="899.6" cy="412.1" r="6.1"/>
<circle cx="901.9" cy="411.7" r="6.1"/>
<circle cx="904.2" cy="411.4" r="6.1"/>
<circle cx="906.5" cy="411.2" r="6.1"/>
<circle cx="908.8" cy="411.0" r="6.1"/>
<circle cx="911.1" cy="410.8" r="6.1"/>
<circle cx="913.4" cy="410.6" r="6.1"/>
<circle cx="915.7" cy="410.3" r="6.1"/>
<circle cx="918.0" cy="410.3" r="6.1"/>
<circle cx="920.3" cy="410.3" r="6.1"/>
<circle cx="922.6" cy="410.4" r="6.1"/>
<circle cx="924.9" cy="410.6" r="6.1"/>
<circle cx="927.2" cy="410.9" r="6.1"/>
<circle cx="929.5" cy="411.2" r="6.1"/>
<circle cx="931.8" cy="411.4" r="6.1"/>
<circle cx="934.1" cy="411.5" r="6.1"/>
<circle cx="936.4" cy="411.6" r="6.1"/>
<circle cx="938.7" cy="411.8" r="6.1"/>
<circle cx="941.0" cy="412.0" r="6.1"/>
<circle cx="943.3" cy="412.2" r="6.1"/>
<circle cx="945.6" cy="412.3" r="6.1"/>
<circle cx="947.9" cy="412.3" r="6.1"/>
<circle cx="950.2" cy="412.2" r="6.1"/>
<circle cx="952.5" cy="412.2" r="6.1"/>
<circle cx="954.8" cy="412.1" r="6.1"/>
<circle cx="957.2" cy="411.9" r="6.1"/>
<circle cx="959.5" cy="411.7" r="6.1"/>
<circle cx="961.8" cy="411.5" r="6.1"/>
<circle cx="964.1" cy="411.1" r="6.1"/>
<circle cx="966.4" cy="410.4" r="6.1"/>
<circle cx="968.7" cy="409.7" r="6.1"/>
<circle cx="971.0" cy="408.6" r="6.1"/>
<circle cx="973.3" cy="407.5" r="6.1"/>
<circle cx="975.6" cy="406.3" r="6.1"/>
<circle cx="977.9" cy="404.9" r="6.1"/>
<circle cx="980.2" cy="403.5" r="6.1"/>
<circle cx="982.5" cy="401.4" r="6.1"/>
<circle cx="984.8" cy="399.3" r="6.1"/>
<circle cx="987.1" cy="397.3" r="6.1"/>
<circle cx="989.4" cy="395.2" r="6.1"/>
<circle cx="991.7" cy="393.7" r="6.1"/>
<circle cx="994.0" cy="392.2" r="6.1"/>
<circle cx="996.3" cy="391.8" r="6.1"/>
<circle cx="998.6" cy="391.4" r="6.1"/>
<circle cx="1000.9" cy="391.5" r="6.1"/>
<circle cx="1003.2" cy="391.6" r="6.1"/>
<circle cx="1005.5" cy="392.0" r="6.1"/>
<circle cx="1007.8" cy="392.3" r="6.1"/>
<circle cx="1010.1" cy="392.7" r="6.1"/>
</g>
<path d="M503.45 412.55V71.80" stroke="#808080" stroke-width="3.1" stroke-dasharray="11.4 4.9" stroke-dashoffset="1.1" fill="none"/>
<path d="M566.40 412.55V71.80" stroke="#808080" stroke-width="3.1" stroke-dasharray="11.4 4.9" stroke-dashoffset="1.1" fill="none"/>
<path d="M142.19 412.55v7.2M211.26 412.55v7.2M282.62 412.55v7.2M353.99 412.55v7.2M423.05 412.55v7.2M494.42 412.55v7.2M563.48 412.55v7.2M634.85 412.55v7.2M706.22 412.55v7.2M770.68 412.55v7.2M842.04 412.55v7.2M911.11 412.55v7.2M982.47 412.55v7.2M96.15 412.55v7.2M1010.10 412.55v7.2M96.15 412.55h-7.2M96.15 344.90h-7.2M96.15 276.00h-7.2M96.15 208.20h-7.2M96.15 140.50h-7.2M96.15 71.80h-7.2" stroke="#000" stroke-width="1.65" fill="none"/>
<path d="M109.96 412.55v4.1M126.08 412.55v4.1M142.19 412.55v4.1M158.31 412.55v4.1M174.42 412.55v4.1M190.54 412.55v4.1M206.65 412.55v4.1M222.77 412.55v4.1M238.88 412.55v4.1M255.00 412.55v4.1M271.11 412.55v4.1M287.23 412.55v4.1M303.34 412.55v4.1M319.46 412.55v4.1M335.57 412.55v4.1M351.69 412.55v4.1M367.80 412.55v4.1M383.92 412.55v4.1M400.03 412.55v4.1M416.15 412.55v4.1M432.26 412.55v4.1M448.38 412.55v4.1M464.49 412.55v4.1M480.61 412.55v4.1M496.72 412.55v4.1M512.84 412.55v4.1M528.95 412.55v4.1M545.07 412.55v4.1M561.18 412.55v4.1M577.30 412.55v4.1M593.41 412.55v4.1M609.53 412.55v4.1M625.64 412.55v4.1M641.76 412.55v4.1M657.87 412.55v4.1M673.99 412.55v4.1M690.10 412.55v4.1M706.22 412.55v4.1M722.33 412.55v4.1M738.45 412.55v4.1M754.56 412.55v4.1M770.68 412.55v4.1M786.79 412.55v4.1M802.91 412.55v4.1M819.02 412.55v4.1M835.14 412.55v4.1M851.25 412.55v4.1M867.37 412.55v4.1M883.48 412.55v4.1M899.60 412.55v4.1M915.71 412.55v4.1M931.83 412.55v4.1M947.94 412.55v4.1M964.06 412.55v4.1M980.17 412.55v4.1M996.29 412.55v4.1" stroke="#000" stroke-width="1.25" fill="none"/>
<rect x="96.15" y="71.80" width="913.95" height="340.75" fill="none" stroke="#000" stroke-width="1.65"/>
<g font-family="'DejaVu Sans', 'Liberation Sans', sans-serif" fill="#000" style="will-change:opacity">
<g font-size="24.6" text-anchor="middle"><text x="553.3" y="33.6">15 (10 - 24) new cases per 100,000 in South East on 13 June 2021</text><text x="557.7" y="61.4" font-size="24.9">R = 1.1 (0.9 - 1.3)</text></g>
<g font-size="20.6" text-anchor="end">
<text transform="translate(81.5 421.2) scale(0.97 1)">0</text>
<text transform="translate(81.5 353.6) scale(0.97 1)">50</text>
<text transform="translate(81.5 284.7) scale(0.97 1)">100</text>
<text transform="translate(81.5 216.9) scale(0.97 1)">150</text>
<text transform="translate(81.5 149.2) scale(0.97 1)">200</text>
<text transform="translate(81.5 80.5) scale(0.97 1)">250</text>
</g>
<g font-size="17.2" text-anchor="middle">
<text transform="translate(142.2 441.4) scale(0.93 1)">Jun</text>
<text transform="translate(211.3 441.4) scale(0.93 1)">Jul</text>
<text transform="translate(282.6 441.4) scale(0.93 1)">Aug</text>
<text transform="translate(354.0 441.4) scale(0.93 1)">Sep</text>
<text transform="translate(423.1 441.4) scale(0.93 1)">Oct</text>
<text transform="translate(494.4 441.4) scale(0.93 1)">Nov</text>
<text transform="translate(563.5 441.4) scale(0.93 1)">Dec</text>
<text transform="translate(634.9 441.4) scale(0.93 1)">Jan</text>
<text transform="translate(706.2 441.4) scale(0.93 1)">Feb</text>
<text transform="translate(770.7 441.4) scale(0.93 1)">Mar</text>
<text transform="translate(842.0 441.4) scale(0.93 1)">Apr</text>
<text transform="translate(911.1 441.4) scale(0.93 1)">May</text>
<text transform="translate(982.5 441.4) scale(0.93 1)">Jun</text>
<text transform="translate(634.5 461.5) scale(0.93 1)">2021</text>
</g>
<text font-size="20.6" text-anchor="middle" transform="translate(29.2 243.7) rotate(-90)"># daily new cases per 100,000</text>
<text font-size="14.42" x="96" y="503.3" fill="#808080">Dashed lines: the beginning and the end of the 2nd national lockdown in England</text>
</g>
<g style="will-change:opacity">
<defs>
<linearGradient id="lgT" gradientUnits="userSpaceOnUse" x1="815" y1="0" x2="831.5" y2="0"><stop offset="0" stop-color="#1a5ccc"/><stop offset="0.45" stop-color="#2a5bcc"/><stop offset="0.66" stop-color="#9a30b0"/><stop offset="1" stop-color="#c8228c"/></linearGradient>
<linearGradient id="lgB" gradientUnits="userSpaceOnUse" x1="815" y1="0" x2="831.5" y2="0"><stop offset="0" stop-color="#1a5ccc"/><stop offset="0.45" stop-color="#2a5bcc"/><stop offset="0.64" stop-color="#b02a86"/><stop offset="1" stop-color="#e8215a"/></linearGradient>
<linearGradient id="lgC" gradientUnits="userSpaceOnUse" x1="817" y1="0" x2="827" y2="0"><stop offset="0" stop-color="#2fd2da"/><stop offset="0.5" stop-color="#2fd2da"/><stop offset="0.9" stop-color="#2fd2da" stop-opacity="0"/></linearGradient>
<clipPath id="cT"><rect x="810" y="479" width="21.7" height="15.9"/></clipPath>
<clipPath id="cB"><rect x="810" y="494.9" width="21.7" height="16"/></clipPath>
</defs>
<rect x="810.75" y="479.65" width="30.2" height="30.3" rx="6.6" fill="#0b2a63"/>
<path clip-path="url(#cT)" fill-rule="evenodd" d="M815.10 494.90a9.80 9.80 0 1 0 19.60 0a9.80 9.80 0 1 0 -19.60 0ZM820.50 494.90a6.50 6.50 0 1 0 13.00 0a6.50 6.50 0 1 0 -13.00 0Z" fill="url(#lgT)"/>
<path clip-path="url(#cB)" fill-rule="evenodd" d="M815.10 494.90a9.80 9.80 0 1 0 19.60 0a9.80 9.80 0 1 0 -19.60 0ZM820.50 494.90a6.50 6.50 0 1 0 13.00 0a6.50 6.50 0 1 0 -13.00 0Z" fill="url(#lgB)"/>
<path fill-rule="evenodd" d="M817.75 494.90a7.45 7.45 0 1 0 14.90 0a7.45 7.45 0 1 0 -14.90 0ZM820.50 494.90a6.50 6.50 0 1 0 13.00 0a6.50 6.50 0 1 0 -13.00 0Z" fill="url(#lgC)"/>
<text x="826.1" y="497.6" font-family="'Liberation Sans', sans-serif" font-weight="bold" font-size="8.2" fill="#2dc0cc" textLength="11.7" lengthAdjust="spacingAndGlyphs">-19</text>
<text x="846.4" y="497.4" font-family="'Liberation Sans', sans-serif" font-weight="bold" font-size="10.3" fill="#1e4b6c" textLength="31.7" lengthAdjust="spacingAndGlyphs">COVID</text>
<text x="882.0" y="497.4" font-family="'Liberation Sans', sans-serif" font-size="10.3" fill="#4a7d9a" textLength="76.7" lengthAdjust="spacingAndGlyphs">Symptom Study</text>
<rect x="965" y="486.6" width="41.9" height="15" rx="1.6" fill="#f4736c"/>
<text x="968.5" y="497.3" font-family="'Liberation Sans', sans-serif" font-size="7.8" fill="#ffffff" textLength="7.5" lengthAdjust="spacingAndGlyphs">by</text>
<text x="979.0" y="497.4" font-family="'Liberation Sans', sans-serif" font-weight="bold" font-size="9" fill="#ffffff" textLength="21.8" lengthAdjust="spacingAndGlyphs">ZOE</text>
<text x="1001.6" y="492.6" font-family="'Liberation Sans', sans-serif" font-size="3.5" fill="#ffffff">®</text>
</g>

</svg>
</body></html>
